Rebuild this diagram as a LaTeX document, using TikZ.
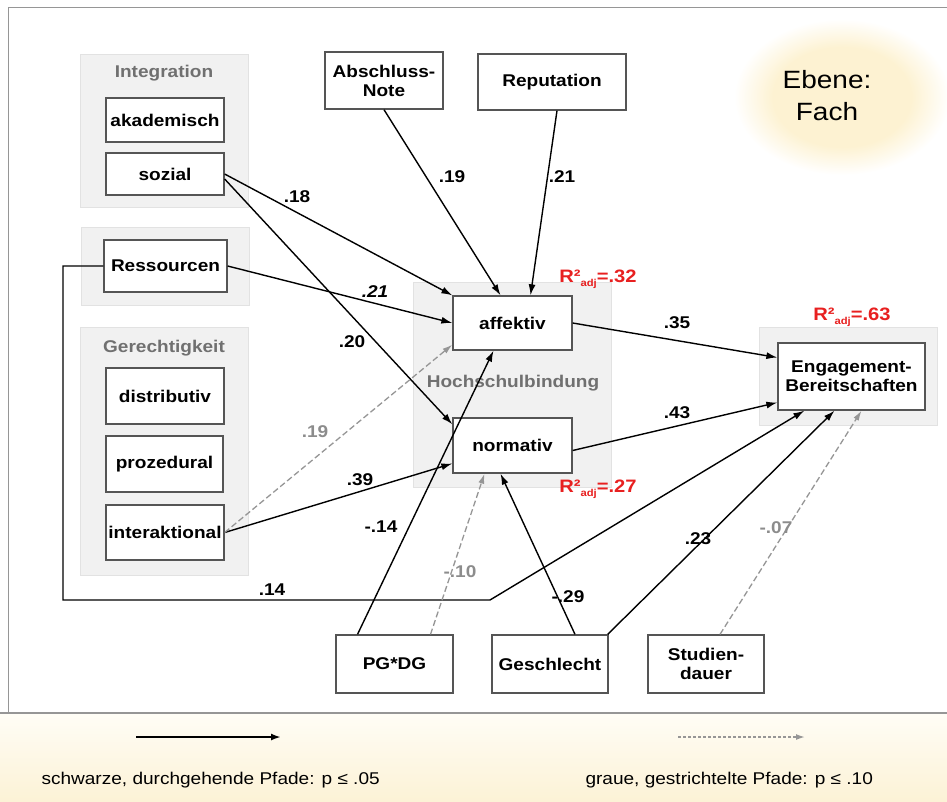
\documentclass[tikz,border=0pt]{standalone}
\usepackage{fontspec}
\setmainfont[FakeStretch=1.12]{Liberation Sans}
\usetikzlibrary{arrows.meta,calc}

\definecolor{grpfill}{RGB}{241,241,241}
\definecolor{grpline}{RGB}{226,226,226}
\definecolor{boxline}{RGB}{85,85,85}
\definecolor{titlegray}{RGB}{112,112,112}
\definecolor{dashgray}{RGB}{150,150,150}
\definecolor{labelgray}{RGB}{140,140,140}
\definecolor{rsqred}{RGB}{232,32,32}
\definecolor{glowc}{RGB}{253,242,210}
\definecolor{foottop}{RGB}{255,253,246}
\definecolor{footbot}{RGB}{252,242,214}
\definecolor{framegray}{RGB}{150,150,150}

\pgfdeclareradialshading{ebeneglow}{\pgfpoint{0bp}{0bp}}{color(0bp)=(glowc); color(16bp)=(glowc); color(25bp)=(white); color(50bp)=(white)}

\tikzset{
  var/.style={draw=boxline, line width=1.3pt, fill=white, align=center, inner sep=0pt,
    font=\fontsize{17}{19}\selectfont\bfseries},
  grp/.style={fill=grpfill, draw=grpline, line width=1pt},
  grptitle/.style={text=titlegray, font=\fontsize{17}{19}\selectfont\bfseries},
  sigpath/.style={draw=black, line width=1.4pt, -{Latex[length=11pt,width=7pt]}},
  trendpath/.style={draw=dashgray, line width=1.3pt, dash pattern=on 6pt off 3pt,
    -{Latex[length=10pt,width=6pt]}},
  coef/.style={font=\fontsize{17}{19}\selectfont\bfseries},
  coefgray/.style={coef, text=labelgray},
  rsq/.style={text=rsqred, font=\fontsize{18}{20}\selectfont\bfseries},
  legendtext/.style={anchor=west, font=\fontsize{17}{19}\selectfont}
}

\newcommand{\rsqlabel}[1]{R²\raisebox{-0.4ex}{\fontsize{10}{10}\selectfont adj}=#1}

\begin{document}
\begin{tikzpicture}[x=1pt,y=-1pt]
\useasboundingbox (0,0) rectangle (947,801);
\fill[white] (0,0) rectangle (947,801);

% footer band and frame
\shade[top color=foottop, bottom color=footbot] (0,713) rectangle (947,801);
\draw[framegray, line width=1pt] (8,713) -- (8,7) -- (947,7);
\draw[framegray, line width=1.2pt] (0,713) -- (947,713);

% level marker
\path[shading=ebeneglow] (842,97) ellipse [x radius=108, y radius=78];
\node[align=center, font=\fontsize{25}{32}\selectfont] (ebene) at (827,96) {Ebene:\\Fach};

% construct groups
\draw[grp] (80,54) rectangle (248,207);
\node[grptitle] (tInt) at (164,73) {Integration};
\draw[grp] (81,227) rectangle (249,305);
\draw[grp] (80,327) rectangle (248,575);
\node[grptitle] (tGer) at (164,348) {Gerechtigkeit};
\draw[grp] (413,282) rectangle (611,487);
\node[grptitle] (tHoch) at (513,383) {Hochschulbindung};
\draw[grp] (759,327) rectangle (937,425);

% variables
\node[var, minimum width=118pt, minimum height=44pt] (akad) at (165,120) {akademisch};
\node[var, minimum width=118pt, minimum height=42pt] (sozial) at (165,174) {sozial};
\node[var, minimum width=123pt, minimum height=52pt] (ress) at (165.5,266) {Ressourcen};
\node[var, minimum width=118pt, minimum height=56pt] (distr) at (165,396) {distributiv};
\node[var, minimum width=117pt, minimum height=56pt] (proz) at (164.5,464) {prozedural};
\node[var, minimum width=118pt, minimum height=55pt] (inter) at (165,532.5) {interaktional};
\node[var, minimum width=118pt, minimum height=57pt] (absch) at (384,80.5) {Abschluss-\\Note};
\node[var, minimum width=148pt, minimum height=56pt] (repu) at (552,82) {Reputation};
\node[var, minimum width=119pt, minimum height=54pt] (affekt) at (512.5,323) {affektiv};
\node[var, minimum width=119pt, minimum height=55pt] (norm) at (512.5,445.5) {normativ};
\node[var, minimum width=147pt, minimum height=67pt] (engage) at (851.5,376.5) {Engagement-\\Bereitschaften};
\node[var, minimum width=117pt, minimum height=58pt] (pgdg) at (394.5,664) {PG*DG};
\node[var, minimum width=116pt, minimum height=58pt] (geschl) at (550,664) {Geschlecht};
\node[var, minimum width=116pt, minimum height=58pt] (studd) at (706,664) {Studien-\\dauer};

% explained variance
\node[rsq] (rsqA) at (598,279) {\rsqlabel{.32}};
\node[rsq] (rsqN) at (598,489) {\rsqlabel{.27}};
\node[rsq] (rsqE) at (852,317) {\rsqlabel{.63}};

% bends of the Ressourcen path
\coordinate (bendA) at (63,600);
\coordinate (bendB) at (490,600);

% significant paths
\draw[sigpath] (sozial.east) -- (affekt.north west);
\draw[sigpath] ($(sozial.east)+(0,5)$) -- ($(norm.north west)+(0,7)$);
\draw[sigpath] (ress.east) -- (affekt.west);
\draw[sigpath] (absch.south) -- ($(affekt.north)+(-12,0)$);
\draw[sigpath] ($(repu.south)+(5,0)$) -- ($(affekt.north)+(18,0)$);
\draw[sigpath] (inter.east) -- ($(norm.west)+(0,18)$);
\draw[sigpath] ($(pgdg.north)+(-37,0)$) -- ($(affekt.south)+(-19,0)$);
\draw[sigpath] ($(geschl.north)+(25,0)$) -- ($(norm.south)+(-12,0)$);
\draw[sigpath] (ress.west) -| (bendA) -- (bendB) -- ($(engage.south west)+(27,0)$);
\draw[sigpath] ($(geschl.north east)+(-1,0)$) -- ($(engage.south)+(-17,0)$);
\draw[sigpath] (affekt.east) -- ($(engage.west)+(0,-19)$);
\draw[sigpath] ($(norm.east)+(0,5)$) -- ($(engage.west)+(0,26)$);

% marginal paths
\draw[trendpath] (inter.east) -- ($(affekt.south west)+(0,-6)$);
\draw[trendpath] ($(pgdg.north)+(36,0)$) -- ($(norm.south)+(-28,0)$);
\draw[trendpath] ($(studd.north)+(14,0)$) -- ($(engage.south)+(10,0)$);

% coefficients
\node[coef] (c18) at (297,197) {.18};
\node[coef] (c20) at (352,342) {.20};
\node[coef, font=\fontsize{17}{19}\selectfont\bfseries\itshape] (c21r) at (375,292) {.21};
\node[coef] (c19) at (452,177) {.19};
\node[coef] (c21) at (562,177) {.21};
\node[coefgray] (c19g) at (315,432) {.19};
\node[coef] (c39) at (360,480) {.39};
\node[coef] (c14n) at (381,527) {-.14};
\node[coefgray] (c10) at (460,572) {-.10};
\node[coef] (c29) at (568,597) {-.29};
\node[coef] (c14) at (272,590) {.14};
\node[coef] (c23) at (698,539) {.23};
\node[coefgray] (c07) at (776,528) {-.07};
\node[coef] (c35) at (677,323) {.35};
\node[coef] (c43) at (677,413) {.43};

% legend
\coordinate (legA1) at (136,737);
\coordinate (legA2) at (281,737);
\coordinate (legB1) at (678,737);
\coordinate (legB2) at (805,737);
\draw[black, line width=2pt, -{Latex[length=10pt,width=7pt]}] (legA1) -- (legA2);
\draw[dashgray, line width=1.6pt, dash pattern=on 3pt off 2pt, -{Latex[length=9pt,width=6pt]}] (legB1) -- (legB2);
\node[legendtext] (legtA) at (38,780) {schwarze, durchgehende Pfade: p ≤ .05};
\node[legendtext] (legtB) at (582,780) {graue, gestrichtelte Pfade: p ≤ .10};
\end{tikzpicture}
\end{document}
